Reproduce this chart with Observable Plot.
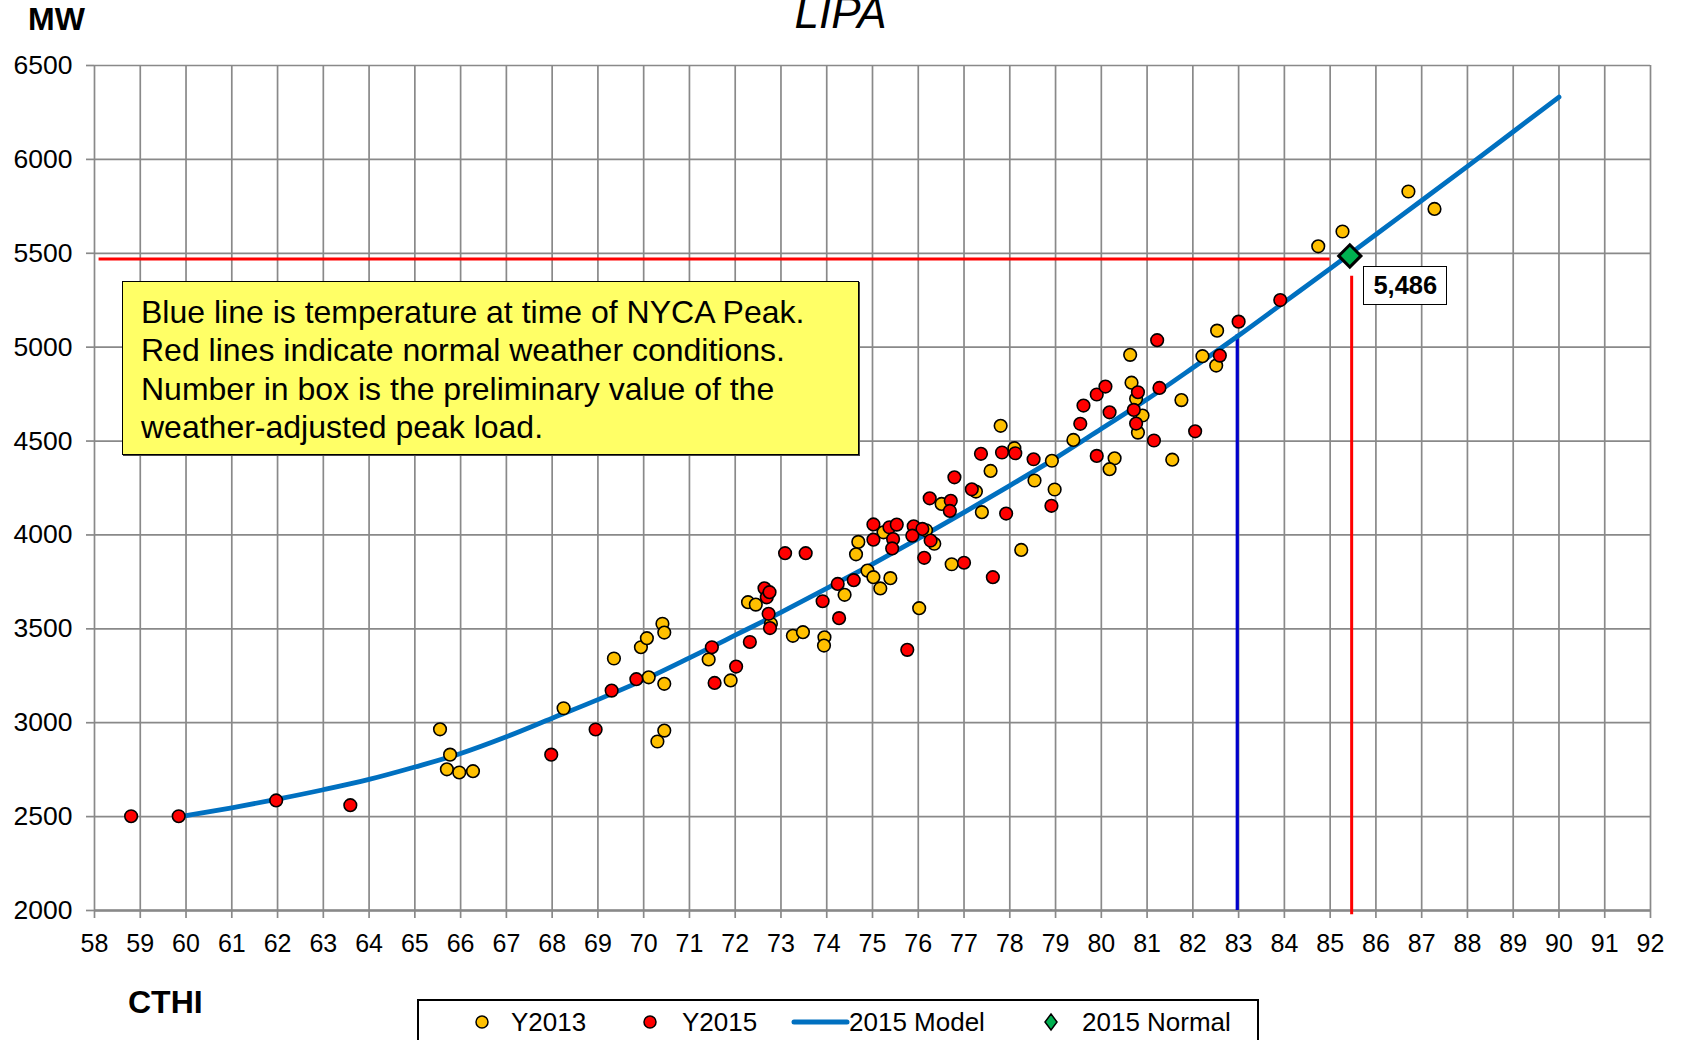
<!DOCTYPE html>
<html><head><meta charset="utf-8">
<script src="https://cdn.jsdelivr.net/npm/d3@7"></script>
<script src="https://cdn.jsdelivr.net/npm/@observablehq/plot@0.6"></script>
<style>
html,body{margin:0;padding:0;background:#fff;}
#wrap{position:relative;width:1681px;height:1040px;overflow:hidden;font-family:"Liberation Sans",Arial,sans-serif;color:#000;}
#wrap svg{position:absolute;left:0;top:0;}
.abs{position:absolute;white-space:nowrap;line-height:1;}
</style></head><body><div id="wrap"></div>
<script>
// ---- data ----
const xTicks = [58,59,60,61,62,63,64,65,66,67,68,69,70,71,72,73,74,75,76,77,78,79,80,81,82,83,84,85,86,87,88,89,90,91,92];
const yTicks = [2000,2500,3000,3500,4000,4500,5000,5500,6000,6500];

const y2013 = [
  [65.55,2965],[65.77,2830],[65.70,2752],[65.97,2735],[66.27,2742],[68.25,3077],
  [69.35,3342],[70.11,3242],[70.45,3207],[69.94,3402],[70.07,3450],[70.41,3527],
  [70.45,3480],[70.45,2958],[70.30,2900],[71.42,3337],[71.90,3225],[72.28,3642],
  [72.45,3629],[72.78,3527],[73.26,3463],[73.48,3482],[73.95,3455],[73.94,3411],
  [74.39,3681],[74.69,3963],[74.64,3897],[74.89,3810],[75.02,3775],[75.39,3770],
  [75.17,3715],[75.24,4014],[76.02,3610],[76.17,4025],[76.35,3953],[76.73,3844],
  [78.25,3920],[76.51,4165],[77.26,4231],[77.39,4121],[77.58,4341],[77.80,4581],
  [78.10,4462],[78.54,4290],[78.92,4395],[78.98,4242],[79.39,4506],[80.29,4408],
  [80.18,4350],[80.66,4811],[80.76,4725],[80.90,4636],[80.80,4545],[81.75,4718],
  [81.55,4401],[80.63,4959],[82.21,4952],[82.51,4902],[82.53,5088],[84.74,5537],
  [85.27,5616],[86.71,5829],[87.28,5736]
];

const y2015 = [
  [58.80,2502],[59.84,2502],[61.97,2586],[63.59,2561],[67.98,2830],[68.95,2964],
  [69.30,3171],[69.84,3232],[71.49,3402],[71.55,3212],[72.02,3299],[72.32,3430],
  [72.64,3716],[72.69,3668],[72.75,3695],[72.73,3580],[72.76,3504],[73.09,3903],
  [73.54,3903],[73.91,3647],[74.27,3557],[74.24,3739],[74.59,3759],[75.02,4056],
  [75.02,3975],[75.37,4041],[75.53,4055],[75.45,3978],[75.43,3928],[75.76,3388],
  [75.90,4046],[76.09,4032],[75.87,3996],[76.27,3970],[76.13,3878],[77.00,3852],
  [77.63,3775],[76.25,4195],[76.71,4182],[76.69,4128],[76.79,4307],[77.17,4243],
  [77.92,4114],[77.37,4432],[77.83,4439],[78.12,4435],[78.52,4403],[78.91,4155],
  [79.54,4592],[79.61,4689],[79.90,4748],[80.09,4790],[80.18,4653],[79.90,4421],
  [80.80,4760],[80.71,4666],[80.76,4593],[81.15,4503],[81.27,4783],[82.05,4552],
  [81.22,5037],[82.59,4955],[83.00,5136],[83.91,5251]
];

const modelX = [60,61,62,63,64,65,66,67,68,69,70,71,72,73,74,75,76,77,78,79,80,81,82,83,84,85,86,87,88,89,90];
const modelY = [2505,2547,2593,2643,2698,2764,2836,2925,3024,3123,3228,3345,3466,3588,3715,3845,3980,4120,4263,4409,4565,4722,4890,5062,5240,5418,5600,5781,5963,6147,6332];

const normalPoint = [85.43, 5486];          // 2015 Normal (diamond)
const normalLabel = "5,486";
const normalHLine = [58.1, 85.0, 5469];     // x1, x2, y
const normalVLine = [85.47, 5378, 1977];    // x, y1, y2
const peakVLine   = [82.97, 5066, 2000];    // x, y1, y2

const annotationLines = [
  "Blue line is temperature at time of NYCA Peak.",
  "Red lines indicate normal weather conditions.",
  "Number in box is the preliminary value of the",
  "weather-adjusted peak load."
];

// ---- chart ----
const grid = "#898989";
const plot = Plot.plot({
  width: 1681, height: 1040,
  marginLeft: 94, marginRight: 31, marginTop: 65, marginBottom: 130,
  x: {domain: [58, 92]},
  y: {domain: [2000, 6500]},
  style: {fontFamily: '"Liberation Sans", Arial, sans-serif', background: "transparent", color: "#000", overflow: "visible"},
  marks: [
    Plot.gridX(xTicks, {stroke: grid, strokeOpacity: 1, strokeWidth: 1.7}),
    Plot.gridY(yTicks, {stroke: grid, strokeOpacity: 1, strokeWidth: 1.7}),
    Plot.axisX(xTicks, {tickSize: 8, tickPadding: 16, stroke: grid, strokeWidth: 1.7, fill: "#000", fontSize: 25, tickFormat: d => String(d), label: null}),
    Plot.axisY(yTicks, {tickSize: 8, tickPadding: 14, stroke: grid, strokeWidth: 1.7, fill: "#000", fontSize: 26.5, tickFormat: d => String(d), label: null}),
    Plot.ruleY([2000], {stroke: grid, strokeWidth: 2.4}),
    Plot.ruleY([normalHLine], {y: d => d[2], x1: d => d[0], x2: d => d[1], stroke: "#FF0000", strokeWidth: 3}),
    Plot.ruleX([normalVLine], {x: d => d[0], y1: d => d[1], y2: d => d[2], stroke: "#FF0000", strokeWidth: 3}),
    Plot.ruleX([peakVLine], {x: d => d[0], y1: d => d[1], y2: d => d[2], stroke: "#0000CC", strokeWidth: 3.2}),
    Plot.line(modelX, {x: d => d, y: (d, i) => modelY[i], stroke: "#0070C0", strokeWidth: 4.8, curve: "monotone-x"}),
    Plot.dot(y2013, {x: d => d[0], y: d => d[1], r: 6.3, fill: "#FFC000", stroke: "#000", strokeWidth: 1.6}),
    Plot.dot(y2015, {x: d => d[0], y: d => d[1], r: 6.3, fill: "#FF0000", stroke: "#000", strokeWidth: 1.6}),
    Plot.dot([normalPoint], {x: d => d[0], y: d => d[1], symbol: "diamond2", r: 10, fill: "#00B050", stroke: "#000", strokeWidth: 3})
  ]
});
const wrap = document.getElementById("wrap");
wrap.appendChild(plot);

const sx = plot.scale("x"), sy = plot.scale("y");

function addDiv(html, css) {
  const d = document.createElement("div");
  d.className = "abs";
  d.innerHTML = html;
  Object.assign(d.style, css);
  wrap.appendChild(d);
  return d;
}

// titles
addDiv("MW", {left: "28px", top: "3px", fontSize: "32px", fontWeight: "bold"});
addDiv("LIPA", {left: "0px", width: "1681px", textAlign: "center", top: "-9px", fontSize: "44px", fontStyle: "italic"});
addDiv("CTHI", {left: "128px", top: "986px", fontSize: "32px", fontWeight: "bold"});

// annotation box
addDiv(annotationLines.join("<br>"), {
  left: "122px", top: "281px", width: "737px", height: "174px", boxSizing: "border-box",
  background: "#FFFF66", border: "1.6px solid #000", padding: "11px 0 0 18px",
  fontSize: "32px", lineHeight: "38.3px", boxShadow: "1px 1px 0 #444"
});

// value label box
addDiv(normalLabel, {
  left: (sx.apply(normalPoint[0]) + 14) + "px", top: (sy.apply(normalPoint[1]) + 11) + "px",
  width: "84px", height: "39px", boxSizing: "border-box", background: "#fff",
  border: "1.6px solid #000", fontSize: "25.5px", fontWeight: "bold",
  display: "flex", alignItems: "center", justifyContent: "center"
});

// legend
addDiv(`<svg width="842" height="60" style="position:absolute;left:0;top:0">
  <circle cx="63" cy="21" r="6" fill="#FFC000" stroke="#000" stroke-width="1.5"/>
  <circle cx="231" cy="21" r="6" fill="#FF0000" stroke="#000" stroke-width="1.5"/>
  <line x1="375" x2="428" y1="21" y2="21" stroke="#0070C0" stroke-width="5" stroke-linecap="round"/>
  <path d="M632,13 L638,21 L632,29 L626,21 Z" fill="#00B050" stroke="#000" stroke-width="1.5"/>
  </svg>
  <span class="abs" style="left:92px;top:8px;font-size:26px">Y2013</span>
  <span class="abs" style="left:263px;top:8px;font-size:26px">Y2015</span>
  <span class="abs" style="left:430px;top:8px;font-size:26px">2015 Model</span>
  <span class="abs" style="left:663px;top:8px;font-size:26px">2015 Normal</span>`,
  {left: "417px", top: "999px", width: "842px", height: "60px", boxSizing: "border-box", border: "2px solid #000", background: "#fff"});
</script></body></html>
